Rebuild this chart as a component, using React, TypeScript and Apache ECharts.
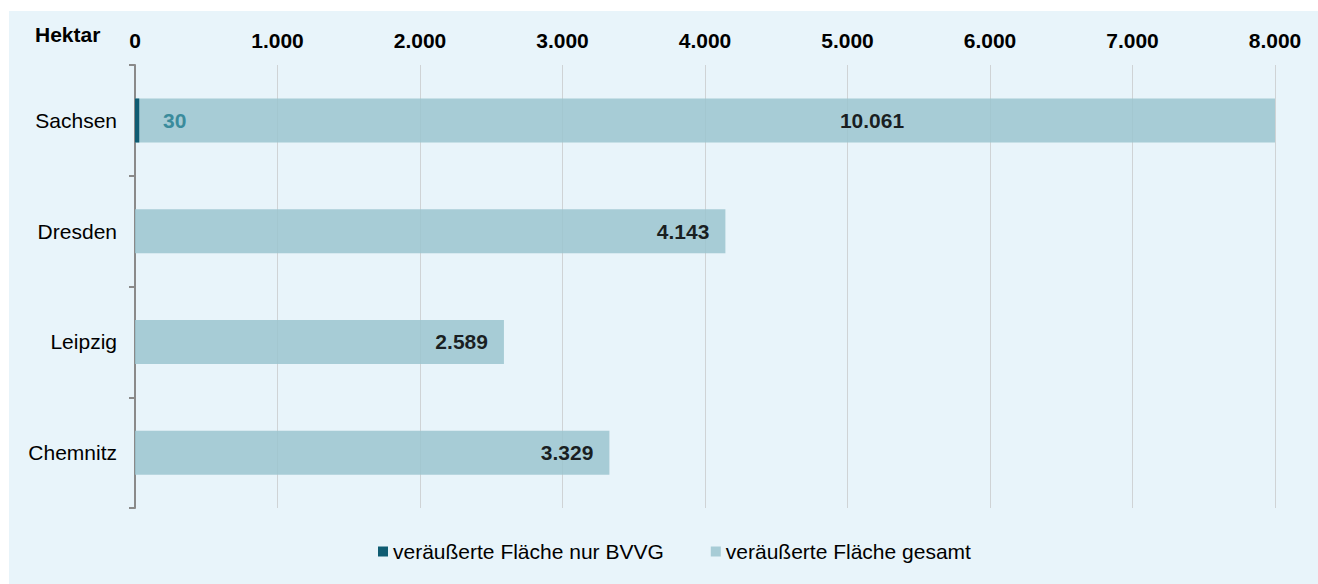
import React, { useEffect, useRef } from "react";
import * as echarts from "echarts";

const categories = ["Sachsen", "Dresden", "Leipzig", "Chemnitz"];
const gesamtValues = [10061, 4143, 2589, 3329];
const bvvgValues: (number | null)[] = [30, null, null, null];
const seriesNames = ["veräußerte Fläche nur BVVG", "veräußerte Fläche gesamt"];
const axisMin = 0;
const axisMax = 8000;
const axisInterval = 1000;
const unitLabel = "Hektar";

const FONT = '"Liberation Sans", Arial, Helvetica, sans-serif';

function fmt(v: number): string {
  return String(Math.round(v)).replace(/\B(?=(\d{3})+(?!\d))/g, ".");
}

export default function App() {
  const ref = useRef<HTMLDivElement>(null);

  useEffect(() => {
    if (!ref.current) return;
    const chart = echarts.init(ref.current, null, { renderer: "svg" });

    const gesamtData = gesamtValues.map((v) => {
      if (v > axisMax) {
        return {
          value: v,
          label: { position: "inside", offset: [167, 0] },
        };
      }
      return { value: v };
    });

    chart.setOption({
      animation: false,
      backgroundColor: "#e8f4fa",
      textStyle: { fontFamily: FONT },
      grid: { left: 126, right: 43, top: 54, bottom: 76, containLabel: false },
      graphic: [
        {
          type: "text",
          left: 26,
          top: 13,
          style: {
            text: unitLabel,
            font: `bold 21px ${FONT}`,
            fill: "#000",
          },
        },
      ],
      legend: {
        bottom: 17,
        left: 364,
        itemWidth: 10,
        itemHeight: 10,
        itemGap: 47,
        icon: "rect",
        data: seriesNames,
        textStyle: { fontSize: 21, color: "#000", fontFamily: FONT },
      },
      xAxis: {
        type: "value",
        position: "top",
        min: axisMin,
        max: axisMax,
        interval: axisInterval,
        axisLine: { show: false },
        axisTick: { show: false },
        axisLabel: {
          margin: 14,
          fontSize: 21,
          fontWeight: "bold",
          color: "#000",
          fontFamily: FONT,
          formatter: (v: number) => fmt(v),
        },
        splitLine: { show: true, lineStyle: { color: "#cfd3d5", width: 1 } },
      },
      yAxis: {
        type: "category",
        inverse: true,
        data: categories,
        axisLine: { show: true, lineStyle: { color: "#8a8a8a", width: 2 } },
        axisTick: { show: true, length: 6, lineStyle: { color: "#8a8a8a", width: 2 } },
        axisLabel: { margin: 18, fontSize: 21, color: "#000", fontFamily: FONT },
        splitLine: { show: false },
      },
      series: [
        {
          name: seriesNames[1],
          type: "bar",
          data: gesamtData,
          barWidth: 44,
          barGap: "-100%",
          itemStyle: { color: "#9bc4cf", opacity: 0.85 },
          label: {
            show: true,
            position: "insideRight",
            distance: 16,
            fontSize: 21,
            fontWeight: "bold",
            color: "#000",
            fontFamily: FONT,
            formatter: (p: any) => fmt(p.value),
          },
          z: 2,
        },
        {
          name: seriesNames[0],
          type: "bar",
          data: bvvgValues,
          barWidth: 44,
          barGap: "-100%",
          itemStyle: { color: "#0f5c72" },
          label: {
            show: true,
            position: "insideLeft",
            distance: 28,
            fontSize: 21,
            fontWeight: "bold",
            color: "#3a8b9c",
            fontFamily: FONT,
            formatter: (p: any) => (p.value == null ? "" : fmt(p.value)),
          },
          z: 3,
        },
      ],
    });

    return () => chart.dispose();
  }, []);

  return (
    <div
      ref={ref}
      style={{ position: "fixed", left: 9, top: 11, width: 1309, height: 573 }}
    />
  );
}
